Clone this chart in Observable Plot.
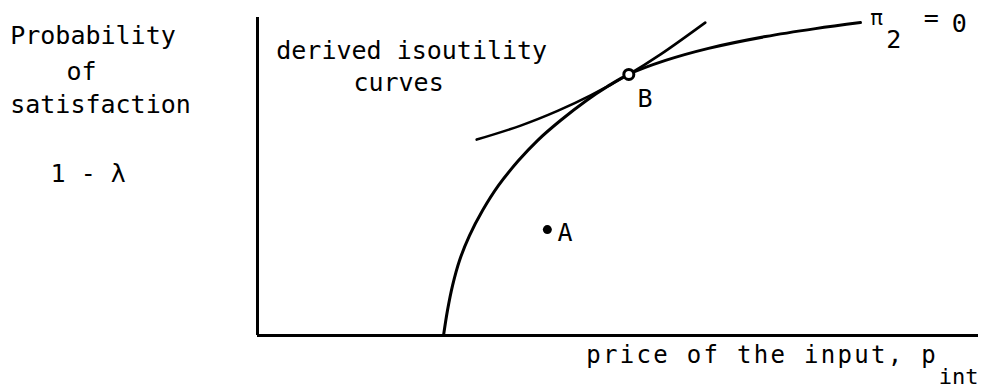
<!DOCTYPE html>
<html>
<head>
<meta charset="utf-8">
<script src="https://cdn.jsdelivr.net/npm/d3@7"></script>
<script src="https://cdn.jsdelivr.net/npm/@observablehq/plot@0.6"></script>
<style>
  html, body { margin: 0; padding: 0; background: #fff; }
  svg { overflow: visible; }
</style>
</head>
<body>
<div id="chart"></div>
<script>
// π2 = 0 curve (price of the input vs probability of satisfaction)
const curvePrice = [2.580, 2.635, 2.705, 2.802, 2.940, 3.121, 3.343, 3.620, 3.883, 4.202, 4.563, 4.854, 5.146, 5.659, 6.255, 7.046, 7.739, 8.363];
const curveProb  = [0.000, 0.079, 0.157, 0.236, 0.314, 0.393, 0.472, 0.550, 0.613, 0.676, 0.739, 0.783, 0.821, 0.865, 0.903, 0.940, 0.965, 0.984];

// derived isoutility curve, tangent at B
const isoPrice = [3.04, 3.65, 4.17, 4.62, 5.15, 5.59, 6.21];
const isoProb  = [0.616, 0.660, 0.707, 0.755, 0.821, 0.884, 0.984];

// points
const pointNames = ["A", "B"];
const pointPrice = [4.02, 5.15];
const pointProb  = [0.333, 0.821];

// annotation texts
const labelText  = ["Probability", "of", "satisfaction", "1 - λ",
                    "derived isoutility", "curves", "B", "A", "2", "=", "0"];
const labelPrice = [-3.43, -2.65, -3.43, -2.87, 0.26, 1.33, 5.27, 4.16, 8.72, 9.24, 9.63];
const labelProb  = [0.918, 0.802, 0.701, 0.484, 0.871, 0.770, 0.717, 0.296, 0.903, 0.972, 0.953];

const piText = ["π"];
const piPrice = [8.50];
const piProb = [0.975];

const xTitle = ["price of the input, p"];
const xTitlePrice = [4.56];
const xTitleProb = [-0.085];
const xSub = ["int"];
const xSubPrice = [9.45];
const xSubProb = [-0.151];

const curve = curvePrice.map((x, i) => ({x, y: curveProb[i]}));
const iso = isoPrice.map((x, i) => ({x, y: isoProb[i]}));
const pts = pointNames.map((n, i) => ({n, x: pointPrice[i], y: pointProb[i]}));
const labels = labelText.map((t, i) => ({t, x: labelPrice[i], y: labelProb[i]}));
const pi = piText.map((t, i) => ({t, x: piPrice[i], y: piProb[i]}));
const xt = xTitle.map((t, i) => ({t, x: xTitlePrice[i], y: xTitleProb[i]}));
const xs = xSub.map((t, i) => ({t, x: xSubPrice[i], y: xSubProb[i]}));

const font = "DejaVu Sans Mono";
const chart = Plot.plot({
  width: 984,
  height: 389,
  marginLeft: 257,
  marginRight: 6,
  marginTop: 17,
  marginBottom: 54,
  x: {domain: [0, 10], axis: null},
  y: {domain: [0, 1], axis: null},
  style: {background: "#fff", fontFamily: font, fontSize: "25px", color: "#000"},
  marks: [
    Plot.ruleX([0], {stroke: "#000", strokeWidth: 3}),
    Plot.ruleY([0], {stroke: "#000", strokeWidth: 3}),
    Plot.line(curve, {x: "x", y: "y", curve: "catmull-rom", stroke: "#000", strokeWidth: 3}),
    Plot.line(iso, {x: "x", y: "y", curve: "catmull-rom", stroke: "#000", strokeWidth: 2.6}),
    Plot.dot(pts.filter(d => d.n === "A"), {x: "x", y: "y", r: 4.5, fill: "#000", stroke: "none"}),
    Plot.dot(pts.filter(d => d.n === "B"), {x: "x", y: "y", r: 5, fill: "#fff", stroke: "#000", strokeWidth: 3}),
    Plot.text(labels, {x: "x", y: "y", text: "t", textAnchor: "start", lineAnchor: "bottom",
      fill: "#000", fontSize: 25, fontFamily: font}),
    Plot.text(pi, {x: "x", y: "y", text: "t", textAnchor: "start", lineAnchor: "bottom",
      fill: "#000", fontSize: 21, fontFamily: font}),
    Plot.text(xt, {x: "x", y: "y", text: "t", textAnchor: "start", lineAnchor: "bottom",
      fill: "#000", fontSize: 24, fontFamily: font}),
    Plot.text(xs, {x: "x", y: "y", text: "t", textAnchor: "start", lineAnchor: "bottom",
      fill: "#000", fontSize: 22, fontFamily: font})
  ]
});
// widen the typed spacing of the x title
d3.select(chart).selectAll("text")
  .filter(function() { return this.textContent === xTitle[0]; })
  .style("letter-spacing", "2.3px");
document.getElementById("chart").appendChild(chart);
</script>
</body>
</html>
